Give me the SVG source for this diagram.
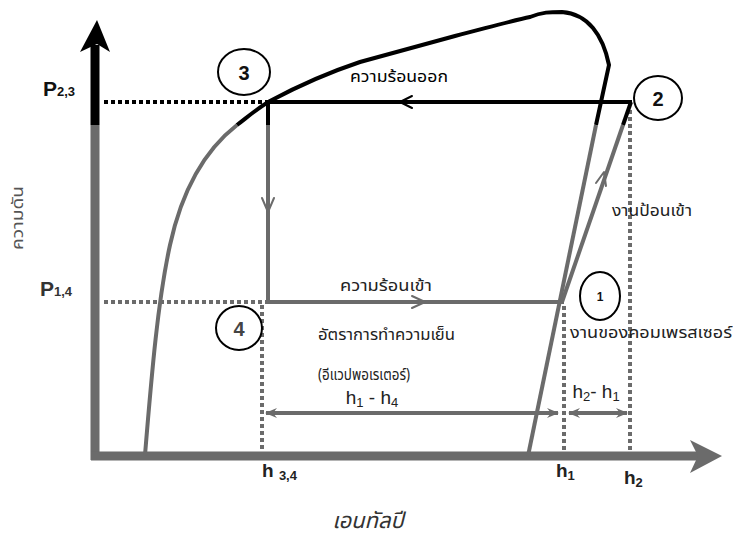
<svg xmlns="http://www.w3.org/2000/svg" width="733" height="538" viewBox="0 0 733 538">
  <style>
    .gray { stroke: #6b6b6b; fill: none; }
    .black { stroke: #000; fill: none; }
    .dot { stroke-dasharray: 4 3; stroke-width: 4; fill: none; }
    .chev { fill: none; stroke-width: 2; stroke-linecap: round; stroke-linejoin: round; }
    .circ { fill: #fff; stroke: #000; stroke-width: 2; }
    .num { font-family: "Liberation Sans", Arial, sans-serif; font-weight: bold; font-size: 20px; text-anchor: middle; fill: #111; }
    .plab { font-family: "Liberation Sans Narrow", "Liberation Sans", sans-serif; font-weight: bold; font-size: 21px; fill: #111; }
    .hlab { font-family: "Liberation Sans Narrow", "Liberation Sans", sans-serif; font-size: 19px; fill: #222; }
    .th { font-family: "Noto Sans Thai", "Noto Sans", "DejaVu Sans", sans-serif; font-size: 16px; fill: #222; }
  </style>
  <defs>
    <marker id="tri" viewBox="0 0 12 10" refX="11" refY="5" markerWidth="12" markerHeight="10" markerUnits="userSpaceOnUse" orient="auto-start-reverse">
      <path d="M0,0 L12,5 L0,10 L4,5 Z" fill="#6b6b6b"/>
    </marker>
  </defs>
  <rect width="733" height="538" fill="#fff"/>

  <!-- axes -->
  <g id="axes">
    <line x1="95" y1="460" x2="95" y2="125" class="gray" stroke-width="9"/>
    <line x1="95" y1="125" x2="95" y2="45" class="black" stroke-width="9"/>
    <path d="M80,52 L97,20 L110,52 L97,44 Z" fill="#000"/>
    <line x1="91" y1="456" x2="700" y2="456" class="gray" stroke-width="9"/>
    <path d="M690,440 L722,456 L690,473 L698,456 Z" fill="#6b6b6b"/>
  </g>

  <!-- saturation dome -->
  <g id="dome">
    <path class="gray" stroke-width="4" d="M145,455 C152,370 158,300 170,245 C182,190 205,150 237,125"/>
    <path class="black" stroke-width="4" d="M237,125 C250,115 258,108 270,101 C300,85 330,72 360,62 L455,36 C490,27 515,20 530,17 C542,12 550,12 562,12 C588,14 603,35 609,65 L596,125"/>
    <path class="gray" stroke-width="4" d="M596,125 L528,456"/>
  </g>

  <!-- guide lines -->
  <g id="guides">
    <line x1="104" y1="102" x2="268" y2="102" class="dot" stroke="#000"/>
    <line x1="104" y1="302" x2="266" y2="302" class="dot" stroke="#6b6b6b"/>
    <line x1="262" y1="305" x2="262" y2="453" class="dot" stroke="#6b6b6b"/>
    <line x1="564" y1="306" x2="564" y2="453" class="dot" stroke="#6b6b6b"/>
    <line x1="630" y1="110" x2="630" y2="453" class="dot" stroke="#6b6b6b"/>
  </g>

  <!-- refrigeration cycle -->
  <g id="connectors">
    <line x1="268" y1="102" x2="632" y2="102" class="black" stroke-width="4"/>
    <line x1="268" y1="102" x2="268" y2="125" class="black" stroke-width="4"/>
    <line x1="268" y1="125" x2="268" y2="302" class="gray" stroke-width="4"/>
    <line x1="266" y1="302" x2="564" y2="302" class="gray" stroke-width="4"/>
    <line x1="562" y1="302" x2="623" y2="125" class="gray" stroke-width="4"/>
    <line x1="623" y1="125" x2="631" y2="102" class="black" stroke-width="4"/>
    <path class="chev" stroke="#000" d="M412,96 L400,102 L412,108"/>
    <path class="chev" stroke="#6b6b6b" d="M262,198 L268,212 L274,198"/>
    <path class="chev" stroke="#6b6b6b" d="M412,296 L425,302 L412,308"/>
    <path class="chev" stroke="#6b6b6b" d="M596,183 L604,172 L606,186"/>
    <line x1="266" y1="413" x2="558" y2="413" class="gray" stroke-width="4" marker-start="url(#tri)" marker-end="url(#tri)"/>
    <line x1="569" y1="413" x2="627" y2="413" class="gray" stroke-width="4" marker-start="url(#tri)" marker-end="url(#tri)"/>
  </g>

  <!-- state points -->
  <g id="state-3">
    <ellipse cx="244" cy="72" rx="26" ry="23" class="circ"/>
    <text x="244" y="80" class="num">3</text>
  </g>
  <g id="state-2">
    <ellipse cx="658" cy="98" rx="24" ry="22" class="circ"/>
    <text x="658" y="106" class="num">2</text>
  </g>
  <g id="state-1">
    <ellipse cx="600" cy="296" rx="20" ry="24" class="circ" stroke="#333"/>
    <text x="600" y="301" class="num" style="font-size:12px">1</text>
  </g>
  <g id="state-4">
    <ellipse cx="239" cy="328" rx="23" ry="22" class="circ" stroke="#444"/>
    <text x="239" y="336" class="num" style="fill:#444">4</text>
  </g>

  <!-- axis labels -->
  <g id="labels">
    <text x="43" y="96" class="plab">P<tspan style="font-size:13px">2,3</tspan></text>
    <text x="40" y="296" class="plab" style="fill:#333">P<tspan style="font-size:13px">1,4</tspan></text>
    <text transform="translate(23,218) rotate(-90)" class="th" text-anchor="middle" style="fill:#555;font-size:15px" textLength="64" lengthAdjust="spacingAndGlyphs">ความดัน</text>
    <text x="262" y="477" class="hlab" font-weight="bold">h <tspan style="font-size:13px" dy="3">3,4</tspan></text>
    <text x="556" y="477" class="hlab" font-weight="bold">h<tspan style="font-size:13px" dy="3">1</tspan></text>
    <text x="624" y="484" class="hlab" font-weight="bold">h<tspan style="font-size:13px" dy="3">2</tspan></text>
    <text x="368" y="528" class="th" text-anchor="middle" style="fill:#333;font-size:22px;font-style:italic">เอนทัลปี</text>
    <text x="350" y="82" class="th" style="fill:#000" textLength="98" lengthAdjust="spacingAndGlyphs">ความร้อนออก</text>
    <text x="340" y="291" class="th" textLength="92" lengthAdjust="spacingAndGlyphs">ความร้อนเข้า</text>
    <text x="318" y="340" class="th" textLength="137" lengthAdjust="spacingAndGlyphs">อัตราการทำความเย็น</text>
    <text x="318" y="380" class="th" textLength="92" lengthAdjust="spacingAndGlyphs">(อีแวปพอเรเตอร์)</text>
    <text x="372" y="404" class="hlab" text-anchor="middle">h<tspan style="font-size:13px" dy="3">1</tspan><tspan dy="-3"> - h</tspan><tspan style="font-size:13px" dy="3">4</tspan></text>
    <text x="596" y="398" class="hlab" text-anchor="middle">h<tspan style="font-size:13px" dy="3">2</tspan><tspan dy="-3">- h</tspan><tspan style="font-size:13px" dy="3">1</tspan></text>
    <text x="612" y="216" class="th" textLength="80" lengthAdjust="spacingAndGlyphs">งานป้อนเข้า</text>
    <text x="570" y="338" class="th" textLength="162" lengthAdjust="spacingAndGlyphs">งานของคอมเพรสเซอร์</text>
  </g>
</svg>
